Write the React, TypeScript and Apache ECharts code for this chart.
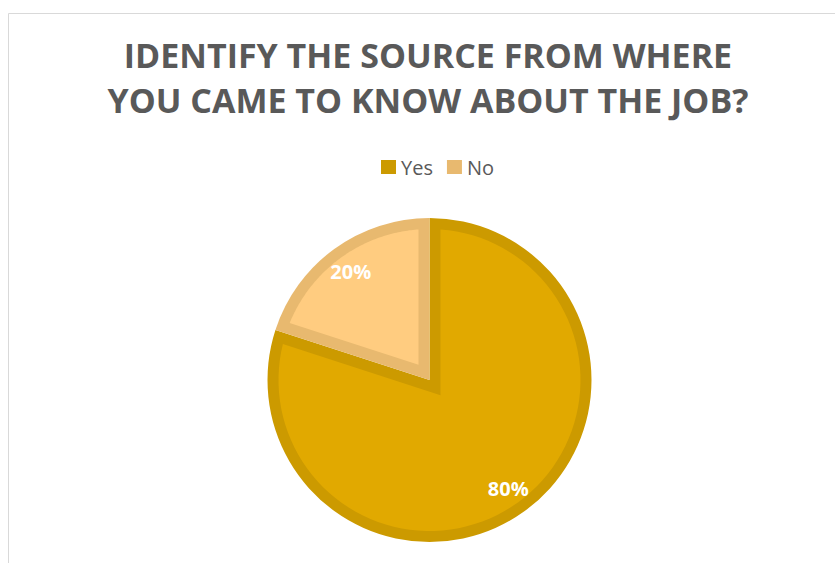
import React, { useEffect, useRef } from "react";
import * as echarts from "echarts";

const titleLines = ["IDENTIFY THE SOURCE FROM WHERE", "YOU CAME TO KNOW ABOUT THE JOB?"];
const categories = ["Yes", "No"];
const values = [80, 20];
const borderColors = ["#CC9A00", "#E8B96F"];
const fillColors = ["#E1A900", "#FFCC80"];

const CX = 429.5;
const CY = 380;
const R = 162;
const BW = 11;

export default function App() {
  const ref = useRef<HTMLDivElement>(null);
  useEffect(() => {
    if (!ref.current) return;
    const chart = echarts.init(ref.current, null, { renderer: "svg" });
    const total = values.reduce((s, v) => s + v, 0);
    const option: any = {
      animation: false,
      backgroundColor: "#ffffff",
      graphic: [
        {
          type: "rect",
          silent: true,
          shape: { x: 8.5, y: 13.5, width: 840, height: 560 },
          style: { fill: "none", stroke: "#D9D9D9", lineWidth: 1 },
          z: 0,
        },
        {
          type: "text",
          silent: true,
          style: {
            text: titleLines.join("\n"),
            x: 428,
            y: 32,
            textAlign: "center",
            textVerticalAlign: "top",
            fontFamily: "Open Sans",
            fontWeight: "bold",
            fontSize: 34,
            lineHeight: 45,
            fill: "#595959",
          },
        },
      ],
      legend: {
        data: categories.map((n, i) => ({ name: n, itemStyle: { color: borderColors[i] } })),
        left: 376,
        top: 152,
        icon: "rect",
        itemWidth: 15,
        itemHeight: 14,
        itemGap: 14,
        selectedMode: false,
        textStyle: { fontFamily: "Open Sans", fontSize: 20, color: "#595959" },
      },
      series: [
        {
          type: "pie",
          z: 1,
          center: [CX, CY],
          radius: [0, R],
          startAngle: 90,
          clockwise: true,
          silent: true,
          label: { show: false },
          labelLine: { show: false },
          data: categories.map((n, i) => ({
            name: n,
            value: values[i],
            itemStyle: { color: borderColors[i] },
          })),
        },
        {
          type: "custom",
          z: 2,
          coordinateSystem: "none",
          silent: true,
          data: values,
          renderItem: (params: any) => {
            const i = params.dataIndex;
            let before = 0;
            for (let k = 0; k < i; k++) before += values[k];
            const startDeg = 90 - (before / total) * 360;
            const spanDeg = (values[i] / total) * 360;
            const b = (startDeg * Math.PI) / 180;
            const s = (spanDeg * Math.PI) / 180;
            const a = b - s;
            const rho = R - BW;
            const delta = Math.asin(BW / rho);
            const m = (a + b) / 2;
            const d = BW / Math.sin(s / 2);
            const points: number[][] = [[CX + d * Math.cos(m), CY - d * Math.sin(m)]];
            const n = 90;
            for (let k = 0; k <= n; k++) {
              const ang = a + delta + ((s - 2 * delta) * k) / n;
              points.push([CX + rho * Math.cos(ang), CY - rho * Math.sin(ang)]);
            }
            return { type: "polygon", shape: { points }, style: { fill: fillColors[i] } };
          },
        },
        {
          type: "pie",
          z: 3,
          center: [CX, CY],
          radius: [99, 163],
          startAngle: 90,
          clockwise: true,
          silent: true,
          itemStyle: { color: "rgba(0,0,0,0)" },
          label: {
            show: true,
            position: "inside",
            formatter: "{d}%",
            color: "#ffffff",
            fontFamily: "Open Sans",
            fontWeight: "bold",
            fontSize: 20,
          },
          labelLine: { show: false },
          data: categories.map((n, i) => ({ name: n, value: values[i] })),
        },
      ],
    };
    chart.setOption(option);
    return () => chart.dispose();
  }, []);
  return (
    <div
      ref={ref}
      style={{ position: "fixed", left: 0, top: 0, width: 835, height: 563 }}
    />
  );
}
